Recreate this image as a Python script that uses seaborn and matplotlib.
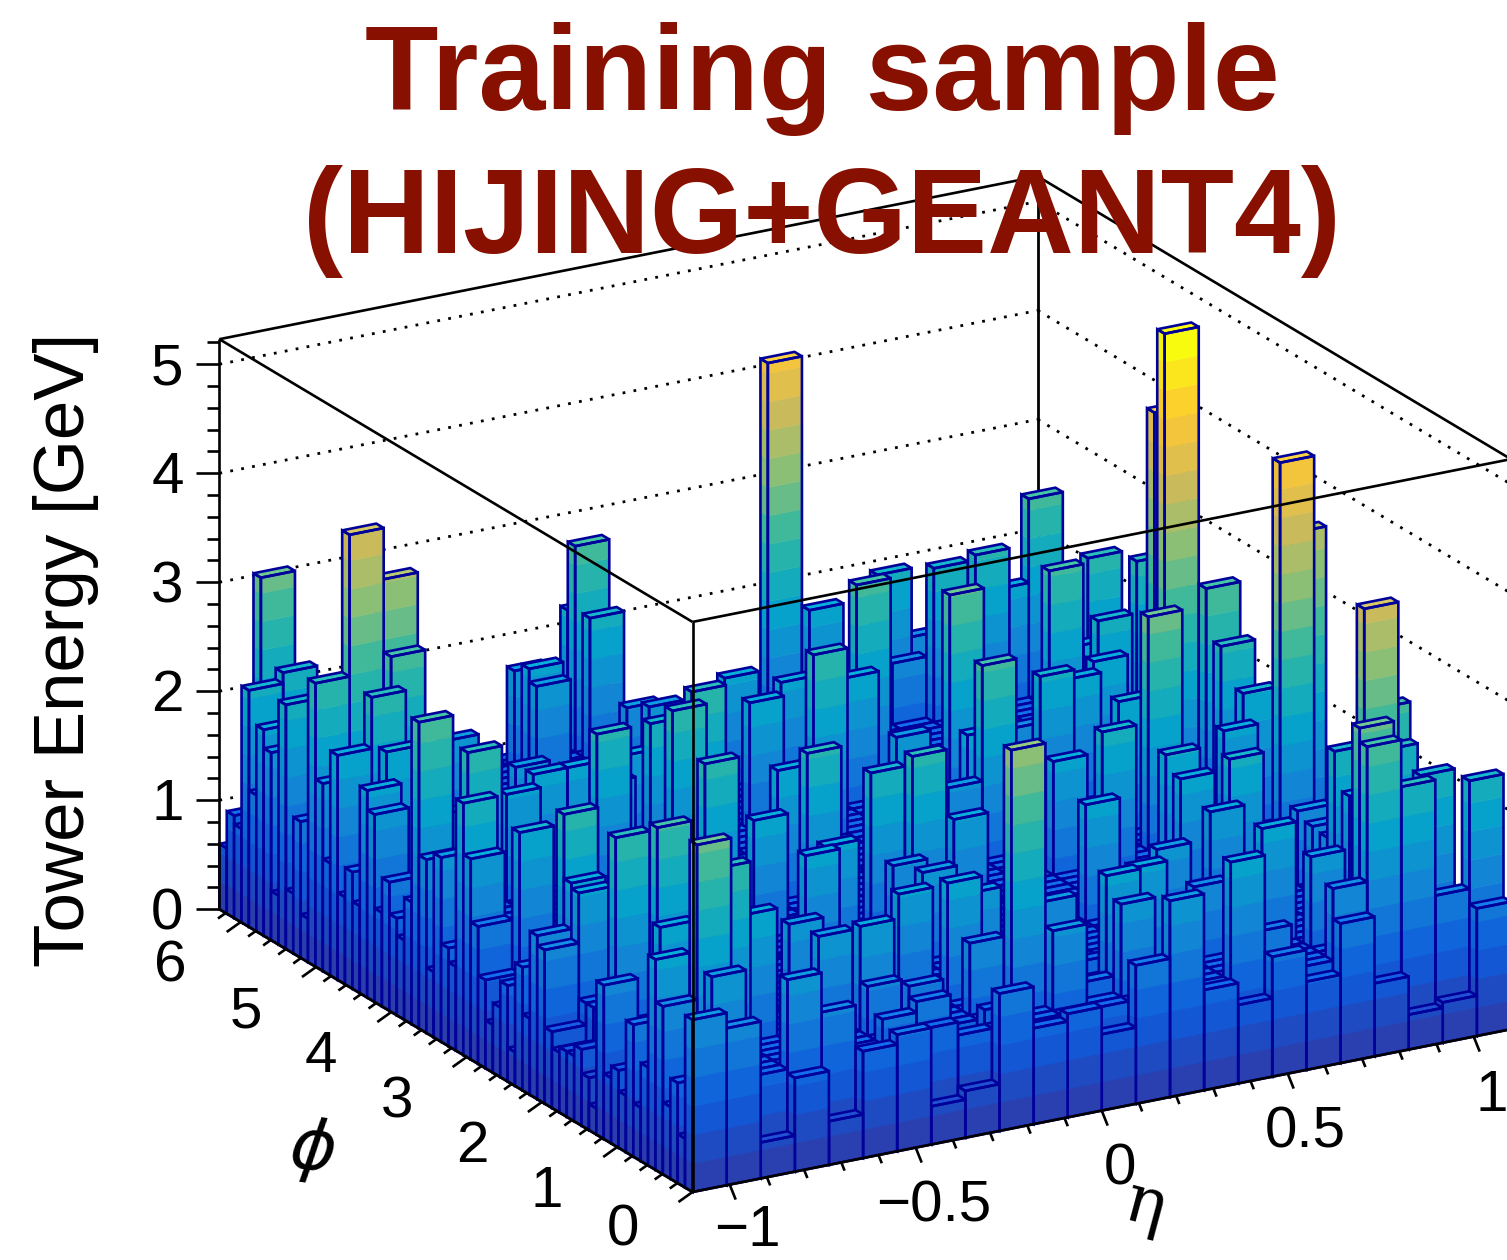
import numpy as np
import matplotlib
matplotlib.use("Agg")
import matplotlib.pyplot as plt
from matplotlib.collections import PolyCollection, LineCollection
import seaborn as sns

sns.set_theme(style="white")
plt.rcParams['font.family'] = ['Liberation Sans', 'DejaVu Sans']

# ---------- data: tower energies in GeV, 24 eta bins x 64 phi bins ----------
n_eta, n_phi = 24, 64
eta_range = (-1.1, 1.1)
phi_range = (0.0, 2 * np.pi)
z_max = 5.23
floor_energy = 0.90

# row at phi bin 0, eta bins 0..23
front_row_energy = [1.58, 1.44, 0.33, 0.86, 0.40, 0.98, 1.07, 0.35, 0.43, 1.26, 0.88, 0.95,
                    0.70, 1.27, 1.80, 0.92, 0.72, 1.10, 0.81, 1.28, 0.67, 0.32, 0.37, 1.17]
# column at eta bin 0, phi bins 1..63
edge_column_energy = [0.45, 0.92, 0.66, 1.54, 1.93, 0.90, 0.49, 1.21, 0.52, 0.71, 0.60, 1.41,
                      0.24, 0.48, 0.70, 0.60, 0.60, 0.55, 0.70, 1.41, 1.50, 0.70, 1.13, 0.31,
                      0.88, 0.64, 0.44, 0.81, 1.26, 1.84, 2.31, 0.77, 0.90, 1.69, 0.60, 1.59,
                      2.81, 1.12, 0.73, 0.89, 1.18, 0.86, 1.72, 1.90, 0.80, 1.07, 0.80, 2.06,
                      1.03, 1.72, 2.60, 0.40, 1.25, 0.55, 2.24, 0.45, 1.72, 1.89, 1.25, 2.17,
                      0.86, 0.94, 0.60]
# (eta bin, phi bin, energy) for towers inside the grid
interior_towers = [
    (1, 63, 3.02), (1, 60, 2.27), (1, 51, 3.90), (2, 51, 3.43), (2, 50, 2.76), (1, 48, 2.53),
    (1, 46, 2.11), (1, 35, 2.55), (4, 52, 1.78), (1, 38, 1.87), (1, 9, 2.00), (1, 21, 1.92),
    (1, 20, 1.87), (1, 28, 2.10), (1, 22, 2.51), (1, 15, 2.58), (2, 14, 2.65), (5, 36, 2.43),
    (8, 61, 1.81), (8, 59, 1.91), (8, 58, 1.79), (10, 63, 2.16), (10, 62, 2.79), (10, 60, 2.21),
    (10, 55, 1.59), (7, 38, 2.32), (8, 37, 2.59), (10, 52, 1.72), (12, 51, 1.90), (15, 59, 4.28),
    (16, 58, 1.99), (12, 39, 2.60), (11, 43, 2.06), (13, 48, 1.92), (15, 47, 2.73), (18, 58, 2.19),
    (14, 44, 2.06), (18, 56, 1.46), (19, 58, 1.56), (19, 55, 2.31), (16, 39, 2.90), (20, 54, 2.41),
    (21, 56, 1.95), (15, 30, 2.68), (22, 56, 2.72), (21, 33, 5.23), (22, 39, 4.20), (22, 22, 4.43),
    (23, 25, 3.60), (21, 6, 3.80), (20, 2, 2.93), (20, 1, 2.80), (21, 1, 2.37), (22, 3, 2.33),
    (23, 1, 2.30), (22, 8, 2.36), (21, 10, 2.33), (21, 8, 2.00), (21, 11, 1.50), (21, 15, 1.58),
    (21, 13, 1.52), (18, 6, 1.97), (16, 1, 1.99), (19, 4, 1.73), (19, 1, 1.56), (17, 2, 1.25),
    (22, 1, 1.31), (13, 4, 1.93), (14, 5, 1.90), (13, 2, 1.75), (1, 2, 1.83), (2, 6, 2.60),
    (1, 4, 2.96), (3, 7, 2.07), (5, 10, 1.74), (3, 1, 1.72), (5, 6, 1.79), (4, 1, 1.36),
    (6, 5, 1.86), (6, 4, 1.35), (6, 2, 1.13), (7, 2, 1.23), (8, 9, 1.87), (9, 7, 1.99),
    (10, 19, 1.60), (10, 15, 1.70), (7, 3, 1.33), (7, 1, 1.02), (9, 4, 1.56), (8, 2, 0.78),
    (9, 2, 1.03), (11, 2, 1.63), (12, 8, 1.59), (10, 3, 3.31), (6, 26, 2.50), (7, 24, 2.00),
    (9, 30, 2.09), (9, 26, 2.41), (7, 17, 1.96), (8, 19, 1.90), (10, 22, 2.33), (11, 21, 2.46),
    (14, 37, 1.80), (12, 20, 1.86), (14, 30, 1.62), (15, 32, 1.96), (16, 25, 1.94), (18, 40, 1.51),
    (20, 44, 2.67), (19, 37, 2.02), (18, 36, 2.15), (22, 51, 1.94), (22, 48, 2.50), (21, 44, 1.93),
    (21, 42, 2.23), (20, 38, 2.08), (17, 23, 2.23), (23, 46, 2.49), (19, 26, 3.04), (22, 32, 2.87),
    (22, 30, 2.42), (22, 27, 2.11), (19, 15, 2.18), (18, 19, 2.12), (18, 17, 1.98), (18, 13, 1.84),
    (21, 25, 1.91), (16, 11, 1.70), (19, 30, 2.10), (15, 16, 1.97), (10, 9, 1.75), (12, 3, 1.05),
    (13, 7, 1.03), (16, 6, 1.56), (7, 35, 2.56), (7, 42, 1.86), (6, 40, 1.75), (4, 40, 1.96),
    (5, 47, 1.68), (3, 39, 1.88), (5, 40, 1.96), (22, 9, 2.70),
]
z_major = [0, 1, 2, 3, 4, 5]
phi_major = [0, 1, 2, 3, 4, 5, 6]
eta_major = [-1, -0.5, 0, 0.5, 1]
eta_labels = ["\u22121", "\u22120.5", "0", "0.5", "1"]
title_lines = ["Training sample", "(HIJING+GEANT4)"]
z_title = "Tower Energy [GeV]"

# kBird style colour stops
bird_stops = ["#2a3fb0", "#0f5cdd", "#1481d6", "#06a4ca", "#2eb7a4",
              "#87bf77", "#d1bb59", "#fec832", "#f9fb0e"]
levels = sns.blend_palette(bird_stops, n_colors=20)
EDGE = "#00009a"
TITLE_COLOR = "#881000"

energy = np.full((n_eta, n_phi), floor_energy)
energy[:, 0] = front_row_energy
energy[0, 1:] = edge_column_energy
for a, b, e in interior_towers:
    energy[a, b] = e

eta_edges = np.linspace(*eta_range, n_eta + 1)
phi_edges = np.linspace(*phi_range, n_phi + 1)
z_levels = np.linspace(0, z_max, len(levels) + 1)


def proj(eta, phi, z=0.0):
    """Oblique view of the (eta, phi, energy) box onto the page."""
    u = eta - eta_range[0]
    return (692.5 + 372.0 * u - 75.3 * phi, 1192.0 - 74.0 * u - 45.0 * phi - 109.0 * z)


def shade(c, f):
    return tuple(min(1.0, v * f) for v in c)


fig = plt.figure(figsize=(15.07, 12.6), dpi=100)
ax = fig.add_axes([0, 0, 1, 1])
ax.set_xlim(0, 1507)
ax.set_ylim(1260, 0)
ax.axis("off")

e0, e1 = eta_range
p0, p1 = phi_range
# dotted grid on the back walls
grid = []
for z in z_major:
    grid.append([proj(e0, p1, z), proj(e1, p1, z)])
    grid.append([proj(e1, p1, z), proj(e1, p0, z)])
ax.add_collection(LineCollection(grid, colors="black", linewidths=2.0,
                                 linestyles=[(0, (1, 3.0))], zorder=1))
ax.add_collection(LineCollection([[proj(e1, p1, 0), proj(e1, p1, z_max)]], colors="black",
                                 linewidths=2.0, zorder=1))

# towers, painted from the back to the front
polys, faces, edges, widths = [], [], [], []
for j in range(n_phi - 1, -1, -1):
    for i in range(n_eta - 1, -1, -1):
        z = energy[i, j]
        a0, a1 = eta_edges[i], eta_edges[i + 1]
        b0, b1 = phi_edges[j], phi_edges[j + 1]
        top = min(int(z / z_max * len(levels)), len(levels) - 1)
        for k in range(top + 1):
            zl, zh = z_levels[k], min(z_levels[k + 1], z)
            c = levels[k]
            side = shade(c, 0.97)
            polys.append([proj(a0, b0, zl), proj(a0, b1, zl), proj(a0, b1, zh), proj(a0, b0, zh)])
            faces.append(side); edges.append(side); widths.append(0.4)
            polys.append([proj(a0, b0, zl), proj(a1, b0, zl), proj(a1, b0, zh), proj(a0, b0, zh)])
            faces.append(c); edges.append(c); widths.append(0.4)
        topc = shade(levels[top], 1.08)
        outline = [
            ([proj(a0, b0, z), proj(a1, b0, z), proj(a1, b1, z), proj(a0, b1, z)], topc),
            ([proj(a0, b0, 0), proj(a0, b1, 0), proj(a0, b1, z), proj(a0, b0, z)], "none"),
            ([proj(a0, b0, 0), proj(a1, b0, 0), proj(a1, b0, z), proj(a0, b0, z)], "none"),
        ]
        for poly, fc in outline:
            polys.append(poly)
            faces.append(fc if fc != "none" else (0, 0, 0, 0))
            edges.append(EDGE)
            widths.append(1.9)
ax.add_collection(PolyCollection(polys, facecolors=faces, edgecolors=edges,
                                 linewidths=widths, zorder=2, joinstyle="miter"))

# box and axes on top of the towers
box = [
    [proj(e0, p1, 0), proj(e0, p1, z_max)],
    [proj(e0, p0, 0), proj(e0, p0, z_max)],
    [proj(e0, p1, z_max), proj(e0, p0, z_max)],
    [proj(e0, p0, z_max), proj(e1, p0, z_max)],
    [proj(e0, p1, z_max), proj(e1, p1, z_max)],
    [proj(e1, p1, z_max), proj(e1, p0, z_max)],
    [proj(e0, p1, 0), proj(e0, p0, 0)],
    [proj(e0, p0, 0), proj(e1, p0, 0)],
]
ticks = []
for z in np.arange(0, 5.21, 0.2):
    x, y = proj(e0, p1, z)
    ln = 23 if abs(z - round(z)) < 1e-6 else 12
    ticks.append([(x, y), (x - ln, y)])
for ph in np.arange(0, 6.21, 0.2):
    x, y = proj(e0, ph, 0)
    f = 1.0 if abs(ph - round(ph)) < 1e-6 else 0.55
    ticks.append([(x, y), (x - 14 * f, y + 10 * f)])
for et in np.arange(-1.0, 1.01, 0.1):
    x, y = proj(et, p0, 0)
    f = 1.0 if abs(et * 2 - round(et * 2)) < 1e-6 else 0.55
    ticks.append([(x, y), (x + 6 * f, y + 15 * f)])
ax.add_collection(LineCollection(box + ticks, colors="black", linewidths=1.9, zorder=3))

FS = 42
for z in z_major:
    x, y = proj(e0, p1, z)
    ax.text(x - 52, y + 5, str(z), fontsize=FS, ha="center", va="center", color="black", zorder=4)
for ph in phi_major:
    x, y = proj(e0, ph, 0)
    ax.text(x - 70, min(y + 45, 1230), str(ph), fontsize=FS, ha="center", va="center",
            color="black", zorder=4)
for et, lab in zip(eta_major, eta_labels):
    x, y = proj(et, p0, 0)
    ax.text(x + 18, min(y + 59, 1231), lab, fontsize=FS, ha="center", va="center",
            color="black", zorder=4)

ax.text(66, 650, z_title, fontsize=51, rotation=90, ha="center", va="center", color="black", zorder=4)
ax.text(312, 1150, "\u03d5", fontsize=50, ha="center", va="center", color="black", zorder=4,
        family=["DejaVu Sans"], style="italic", rotation=-8)
ax.text(1145, 1206, "\u03b7", fontsize=48, ha="center", va="center", color="black", zorder=4,
        family=["DejaVu Serif"], rotation=-15)

ax.text(822, 110, title_lines[0], fontsize=86.5, fontweight="bold", ha="center", va="baseline",
        color=TITLE_COLOR, zorder=5)
ax.text(822, 253, title_lines[1], fontsize=86.5, fontweight="bold", ha="center", va="baseline",
        color=TITLE_COLOR, zorder=5)

fig.savefig("out.png", dpi=100, facecolor="white")
